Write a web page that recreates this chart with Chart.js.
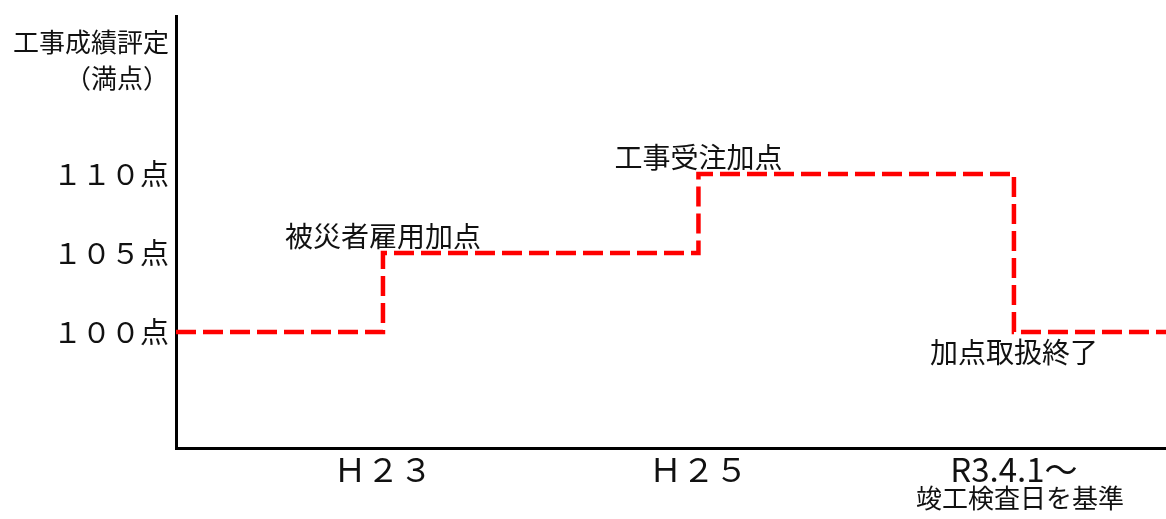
<!DOCTYPE html>
<html><head><meta charset="utf-8">
<script src="https://cdn.jsdelivr.net/npm/chart.js@4/dist/chart.umd.min.js"></script>
<style>html,body{margin:0;padding:0;background:#fff;overflow:hidden}#wrap{width:1166px;height:519px;position:relative}</style>
</head><body><div id="wrap"><canvas id="c"></canvas></div>
<script>
// --- data ---
const stepXs = [1, 2, 3];                       // H23, H25, R3.4.1
const xTickLabels = ['Ｈ２３', 'Ｈ２５', 'R3.4.1～'];
const xTickSubLabels = ['', '', '竣工検査日を基準'];
const scores = [100, 105, 110, 100];            // score before H23, from H23, from H25, from R3.4.1
const yTickValues = [100, 105, 110];
const yTickLabels = ['１００点', '１０５点', '１１０点'];
const yTitleLines = ['工事成績評定', '（満点）'];
const notes = ['被災者雇用加点', '工事受注加点', '加点取扱終了'];
const noteSides = ['above', 'above', 'below'];

const FAMILY = '"Noto Sans CJK JP", "Noto Sans", sans-serif';
const X_MIN = 0.344, X_MAX = 3.482, Y_MIN = 92.66, Y_MAX = 120;
const Y_TITLE_AT = 117.2;

const points = [{x: X_MIN, y: scores[0]}];
stepXs.forEach((v, i) => points.push({x: v, y: scores[i + 1]}));
points.push({x: X_MAX, y: scores[scores.length - 1]});

const notesPlugin = {
  id: 'notes',
  afterDatasetsDraw(chart) {
    const {ctx, scales: {x, y}, chartArea} = chart;
    ctx.save();
    ctx.fillStyle = '#111';
    ctx.textAlign = 'center';
    ctx.textBaseline = 'middle';
    ctx.font = '28px ' + FAMILY;
    notes.forEach((t, i) => {
      const px = x.getPixelForValue(stepXs[i]);
      const py = y.getPixelForValue(scores[i + 1]);
      ctx.fillText(t, px, noteSides[i] === 'above' ? py - 17 : py + 20);
    });
    ctx.font = '26px ' + FAMILY;
    xTickSubLabels.forEach((t, i) => {
      if (!t) return;
      ctx.fillText(t, x.getPixelForValue(stepXs[i]) + 6, chartArea.bottom + 50);
    });
    ctx.restore();
  }
};

new Chart(document.getElementById('c'), {
  type: 'line',
  data: {
    datasets: [{
      data: points,
      stepped: 'before',
      borderColor: '#ff0000',
      borderWidth: 4.5,
      borderDash: [20, 7],
      borderCapStyle: 'butt',
      pointRadius: 0,
      fill: false
    }]
  },
  options: {
    responsive: true,
    maintainAspectRatio: false,
    animation: false,
    layout: {padding: {top: 16, left: 0, right: 0, bottom: 0}},
    plugins: {legend: {display: false}, tooltip: {enabled: false}},
    scales: {
      x: {
        type: 'linear',
        min: X_MIN, max: X_MAX,
        afterBuildTicks: s => { s.ticks = stepXs.map(v => ({value: v})); },
        afterFit: s => { s.height = 71; s.paddingLeft = 0; s.paddingRight = 0; },
        grid: {display: true, drawOnChartArea: false, drawTicks: false},
        border: {display: true, color: '#000', width: 3},
        ticks: {
          padding: 2,
          autoSkip: false,
          maxRotation: 0,
          color: '#111',
          font: {family: FAMILY, size: 33},
          callback: (v, i) => xTickLabels[i]
        }
      },
      y: {
        type: 'linear',
        min: Y_MIN, max: Y_MAX,
        afterBuildTicks: s => { s.ticks = yTickValues.map(v => ({value: v})).concat([{value: Y_TITLE_AT}]); },
        afterFit: s => { s.width = 176; s.paddingTop = 0; s.paddingBottom = 0; },
        grid: {display: true, drawOnChartArea: false, drawTicks: false},
        border: {display: true, color: '#000', width: 3},
        ticks: {
          padding: 7,
          color: '#111',
          font: ctx => (ctx.tick && ctx.tick.value === Y_TITLE_AT)
            ? {family: FAMILY, size: 26, lineHeight: 1.4}
            : {family: FAMILY, size: 29},
          callback: v => v === Y_TITLE_AT ? yTitleLines : yTickLabels[yTickValues.indexOf(v)]
        }
      }
    }
  },
  plugins: [notesPlugin]
});
</script>
</body></html>
